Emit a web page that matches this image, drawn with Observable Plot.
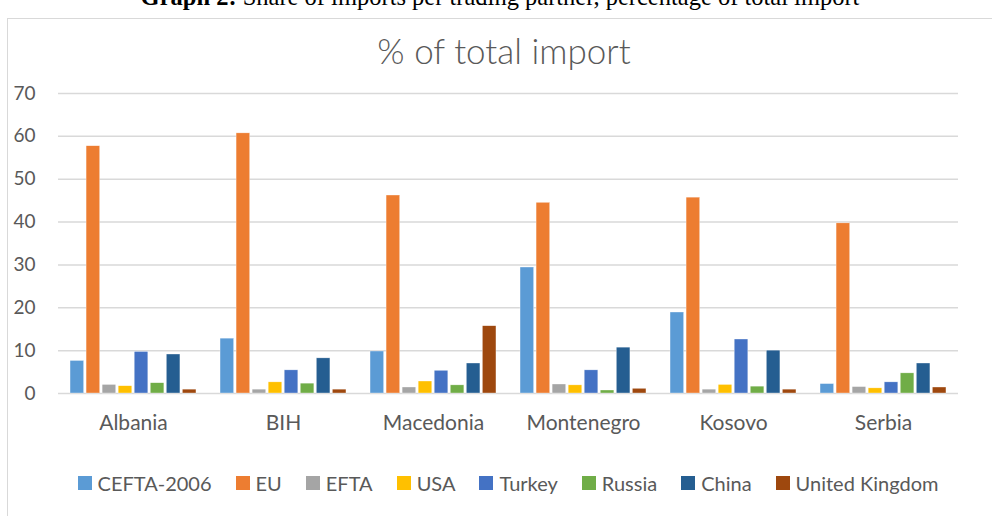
<!DOCTYPE html>
<html>
<head>
<meta charset="utf-8">
<script src="https://cdn.jsdelivr.net/npm/d3@7"></script>
<script src="https://cdn.jsdelivr.net/npm/@observablehq/plot@0.6"></script>
<style>
  html, body { margin: 0; padding: 0; background: #fff; }
  body { width: 992px; height: 516px; position: relative; overflow: hidden; font-family: Lato, "Open Sans", sans-serif; }
  #caption { position: absolute; left: 0; width: 1000px; top: -17px; text-align: center; font-family: "Liberation Serif", "Times New Roman", serif; font-size: 24.5px; color: #000; white-space: nowrap; }
  #frame { position: absolute; left: 7px; top: 18px; width: 1200px; height: 600px; border: 1px solid #d9d9d9; box-sizing: border-box; }
  #title { position: absolute; left: 0; width: 1008px; top: 29px; text-align: center; font-size: 35px; font-weight: 300; color: #595959; }
  #chart { position: absolute; left: 0; top: 70px; }
  #legend { position: absolute; left: 0; width: 1016px; top: 471px; display: flex; justify-content: center; gap: 24px; font-size: 20px; color: #595959; }
  #legend .item { display: flex; align-items: center; gap: 6px; }
  #legend .sw { width: 14px; height: 14px; display: inline-block; }
</style>
</head>
<body>
<div id="caption"><b>Graph 2:</b> Share of imports per trading partner, percentage of total import</div>
<div id="frame"></div>
<div id="title">% of total import</div>
<div id="chart"></div>
<div id="legend"></div>
<script>
const countries = ["Albania", "BIH", "Macedonia", "Montenegro", "Kosovo", "Serbia"];
const partners = ["CEFTA-2006", "EU", "EFTA", "USA", "Turkey", "Russia", "China", "United Kingdom"];
const colors = ["#5B9BD5", "#ED7D31", "#A5A5A5", "#FFC000", "#4472C4", "#70AD47", "#255E91", "#9E480E"];

const cefta  = [7.6, 12.8, 9.8, 29.4, 18.9, 2.2];
const eu     = [57.7, 60.7, 46.2, 44.5, 45.7, 39.7];
const efta   = [2.0, 0.9, 1.4, 2.1, 0.9, 1.5];
const usa    = [1.7, 2.6, 2.8, 1.9, 2.0, 1.2];
const turkey = [9.7, 5.4, 5.3, 5.4, 12.6, 2.6];
const russia = [2.4, 2.3, 1.9, 0.7, 1.6, 4.7];
const china  = [9.1, 8.2, 7.0, 10.7, 10.0, 7.0];
const uk     = [0.9, 0.9, 15.7, 1.1, 0.9, 1.4];
const yTicks = [0, 10, 20, 30, 40, 50, 60, 70];

const series = [cefta, eu, efta, usa, turkey, russia, china, uk];
const data = [];
countries.forEach((c, i) => {
  partners.forEach((p, j) => data.push({country: c, partner: p, value: series[j][i]}));
});

const chart = Plot.plot({
  width: 992,
  height: 370,
  marginTop: 23,
  marginBottom: 47,
  marginLeft: 58,
  marginRight: 34,
  style: {fontSize: "19px", fontFamily: "Lato, 'Open Sans', sans-serif", color: "#595959", background: "transparent"},
  fx: {domain: countries, padding: 0, axis: "bottom", label: null, tickSize: 0, tickPadding: 22, fontSize: 21},
  x: {domain: partners, axis: null, paddingInner: 0.15, paddingOuter: 0.75, round: false},
  y: {domain: [0, 70], ticks: yTicks, label: null, tickSize: 0, tickPadding: 23},
  color: {domain: partners, range: colors},
  marks: [
    Plot.gridY(yTicks, {stroke: "#d9d9d9", strokeOpacity: 1, strokeWidth: 1.5}),
    Plot.barY(data, {fx: "country", x: "partner", y: "value", fill: "partner", stroke: "white", strokeOpacity: 0.7, strokeWidth: 0.5})
  ]
});
chart.querySelectorAll("g[aria-label='fx-axis tick label'] text, g[aria-label='fx-axis tick label']").forEach(e => e.style.fontSize = "21px");
document.getElementById("chart").appendChild(chart);

const legend = document.getElementById("legend");
partners.forEach((p, j) => {
  const item = document.createElement("div");
  item.className = "item";
  const sw = document.createElement("span");
  sw.className = "sw";
  sw.style.background = colors[j];
  const t = document.createElement("span");
  t.textContent = p;
  item.appendChild(sw);
  item.appendChild(t);
  legend.appendChild(item);
});
</script>
</body>
</html>
